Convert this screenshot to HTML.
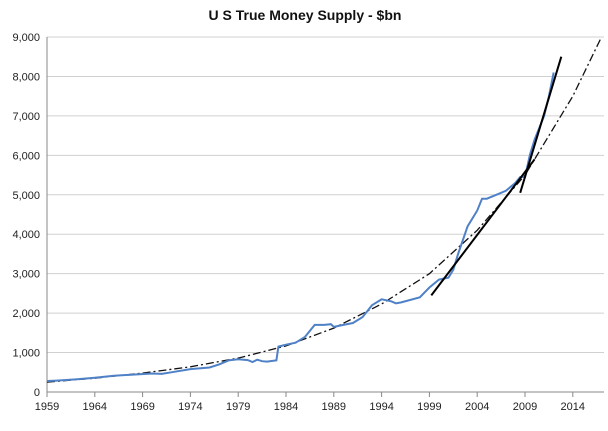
<!DOCTYPE html>
<html><head><meta charset="utf-8"><style>
body{margin:0;background:#fff;font-family:"Liberation Sans",sans-serif}
svg text{font-family:"Liberation Sans",sans-serif}
</style></head><body>
<svg id="chart" width="608" height="426" viewBox="0 0 608 426">
<text x="305" y="20" text-anchor="middle" font-size="14" font-weight="bold" fill="#111">U S True Money Supply - $bn</text>
<g id="grid"></g><g id="yt"></g><g id="xt"></g><g id="series"></g>
</svg>
<script>
const yTicks=[0,1000,2000,3000,4000,5000,6000,7000,8000,9000];
const xTicks=[1959,1964,1969,1974,1979,1984,1989,1994,1999,2004,2009,2014];
const supplyYears=[1959,1960,1962,1964,1966,1968,1970,1971,1972,1974,1976,1977,1978,1979,1980,1980.5,1981,1981.5,1982,1983,1983.2,1984,1985,1986,1987,1988,1988.7,1989,1990,1991,1992,1993,1994,1995,1995.5,1996,1998,1999,2000,2001,2001.5,2002,2003,2004,2004.5,2005,2006,2007,2008,2008.5,2009,2009.5,2010,2011,2011.5,2012];
const supplyValues=[280,290,320,360,410,440,470,460,500,580,620,700,800,830,810,760,820,780,770,800,1150,1200,1250,1400,1700,1700,1720,1650,1700,1750,1900,2200,2350,2300,2250,2270,2400,2650,2850,2900,3100,3500,4200,4600,4900,4900,5000,5100,5300,5450,5450,6000,6400,7000,7500,8100];
const trendYears=[1959,1964,1969,1974,1979,1984,1989,1994,1999,2004,2009,2014,2017];
const trendValues=[250,350,480,640,860,1170,1620,2230,3000,4100,5500,7500,9000];
const line1Years=[1999.2,2010.0];const line1Values=[2450,5900];
const line2Years=[2008.5,2012.8];const line2Values=[5050,8500];
const NS="http://www.w3.org/2000/svg";
const X=y=>47+(y-1959)*9.56, Y=v=>392-v*(355/9000);
function mk(t,a,p){const e=document.createElementNS(NS,t);for(const k in a)e.setAttribute(k,a[k]);document.getElementById(p).appendChild(e);return e;}
yTicks.forEach(v=>{
 const l=mk('line',{x1:47,x2:604,y1:Y(v),y2:Y(v),stroke:v?'#d0d0d0':'#888','stroke-width':1},'grid');
 
 
 const t=mk('text',{x:40,y:Y(v)+4,'text-anchor':'end','font-size':11,fill:'#222'},'yt');t.textContent=v.toLocaleString('en-US');
 
 
});
const ax=mk('line',{x1:47,x2:47,y1:Y(9000),y2:Y(0),stroke:'#888'},'grid');


xTicks.forEach(y=>{
 const k=mk('line',{x1:X(y),x2:X(y),y1:Y(0),y2:Y(0)+5,stroke:'#888'},'xt');
 
 
 const t=mk('text',{x:X(y),y:Y(0)+18,'text-anchor':'middle','font-size':11,fill:'#222'},'xt');t.textContent=y;
 
 
});
const pts=(xs,vs)=>xs.map((x,i)=>X(x).toFixed(1)+','+Y(vs[i]).toFixed(1)).join(' ');
const tr=mk('polyline',{points:pts(trendYears,trendValues),fill:'none',stroke:'#111','stroke-width':1.3,'stroke-dasharray':'8,3,2,3'},'series');


const s=mk('polyline',{points:pts(supplyYears,supplyValues),fill:'none',stroke:'#4f81c7','stroke-width':2},'series');


const l1=mk('polyline',{points:pts(line1Years,line1Values),fill:'none',stroke:'#000','stroke-width':2},'series');


const l2=mk('polyline',{points:pts(line2Years,line2Values),fill:'none',stroke:'#000','stroke-width':2},'series');


</script>
</body></html>
